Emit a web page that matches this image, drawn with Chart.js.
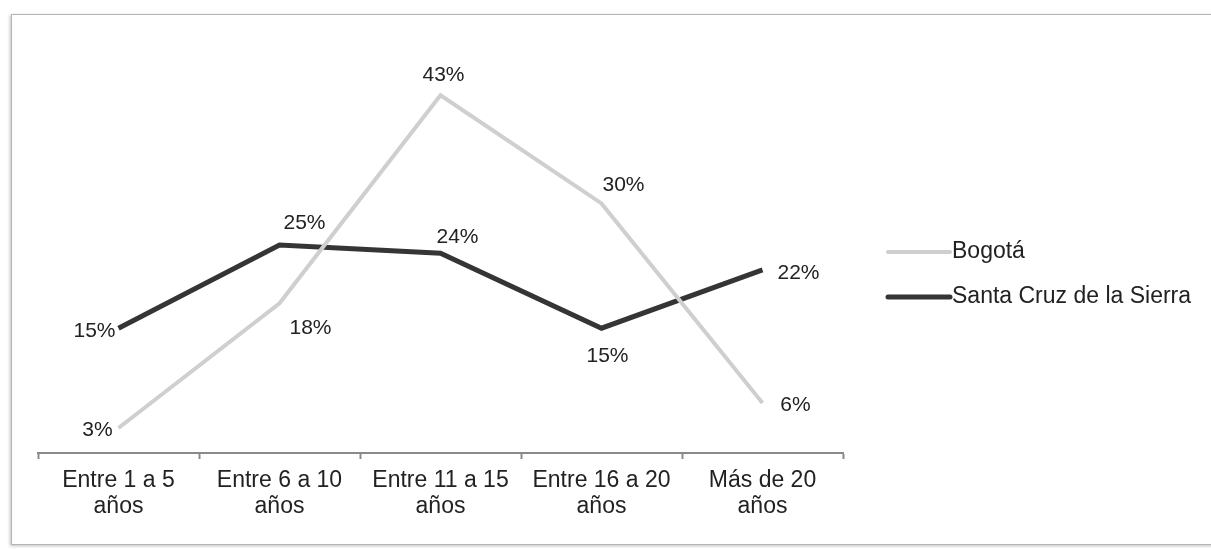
<!DOCTYPE html>
<html>
<head>
<meta charset="utf-8">
<script src="https://cdn.jsdelivr.net/npm/chart.js@4.4.1/dist/chart.umd.min.js"></script>
<style>
  html, body { margin: 0; padding: 0; background: #fff; }
  body { width: 1211px; height: 549px; position: relative; overflow: hidden; }
  .frame {
    position: absolute; left: 11px; top: 14px; width: 1240px; height: 529px;
    border: 1px solid #b5b5b5; box-shadow: -1px 1px 3px rgba(0,0,0,0.25);
    background: #fff;
  }
  #chart { position: absolute; left: 0; top: 0; }
</style>
</head>
<body>
<div class="frame"></div>
<canvas id="chart" width="1211" height="549"></canvas>
<script>
const categories = [
  ["Entre 1 a 5", "años"],
  ["Entre 6 a 10", "años"],
  ["Entre 11 a 15", "años"],
  ["Entre 16 a 20", "años"],
  ["Más de 20", "años"]
];
const bogota = [3, 18, 43, 30, 6];
const santaCruz = [15, 25, 24, 15, 22];

// label nudges [dx, dy] from each point to the centre of its text
const bogotaLabelShift = [[-21, 2], [31, 25], [3, -20], [22, -18], [33, 2]];
const santaCruzLabelShift = [[-24, 3], [25, -22], [17, -16], [6, 28], [36, 3]];

const FONT = "Liberation Sans, Arial, sans-serif";

const valueLabels = {
  id: "valueLabels",
  afterDatasetsDraw(chart) {
    const ctx = chart.ctx;
    ctx.save();
    ctx.font = "21px " + FONT;
    ctx.fillStyle = "#222";
    ctx.textAlign = "center";
    ctx.textBaseline = "middle";
    chart.data.datasets.forEach((ds, i) => {
      const meta = chart.getDatasetMeta(i);
      meta.data.forEach((pt, j) => {
        const [dx, dy] = ds.labelShift[j];
        ctx.fillText(ds.data[j] + "%", pt.x + dx, pt.y + dy);
      });
    });
    ctx.restore();
  }
};

const sideLegend = {
  id: "sideLegend",
  afterDraw(chart) {
    const ctx = chart.ctx;
    ctx.save();
    ctx.font = "23px " + FONT;
    ctx.textBaseline = "middle";
    ctx.textAlign = "left";
    chart.data.datasets.forEach((ds, i) => {
      const y = 252 + i * 45;
      ctx.strokeStyle = ds.borderColor;
      ctx.lineWidth = ds.borderWidth;
      ctx.lineCap = "round";
      ctx.beginPath();
      ctx.moveTo(888, y);
      ctx.lineTo(950, y);
      ctx.stroke();
      ctx.fillStyle = "#222";
      ctx.fillText(ds.label, 952, y);
    });
    ctx.restore();
  }
};

new Chart(document.getElementById("chart"), {
  type: "line",
  data: {
    labels: categories,
    datasets: [
      {
        label: "Bogotá",
        data: bogota,
        labelShift: bogotaLabelShift,
        borderColor: "#cfcfcf",
        borderWidth: 4,
        pointRadius: 0,
        tension: 0
      },
      {
        label: "Santa Cruz de la Sierra",
        data: santaCruz,
        labelShift: santaCruzLabelShift,
        borderColor: "#353535",
        borderWidth: 5,
        pointRadius: 0,
        tension: 0
      }
    ]
  },
  options: {
    responsive: false,
    animation: false,
    layout: { padding: { left: 38, right: 368, top: 37, bottom: 0 } },
    plugins: {
      legend: { display: false },
      tooltip: { enabled: false }
    },
    scales: {
      x: {
        offset: true,
        afterFit(scale) { scale.height = 96; },
        border: { display: true, color: "#8a8a8a", width: 2 },
        grid: {
          offset: true,
          drawOnChartArea: false,
          drawTicks: true,
          tickLength: 6,
          tickWidth: 2,
          color: "#8a8a8a"
        },
        ticks: {
          color: "#222",
          padding: 9,
          maxRotation: 0,
          autoSkip: false,
          font: { family: FONT, size: 23, lineHeight: 1.13 }
        }
      },
      y: {
        display: false,
        min: 0,
        max: 50
      }
    }
  },
  plugins: [valueLabels, sideLegend]
});
</script>
</body>
</html>
